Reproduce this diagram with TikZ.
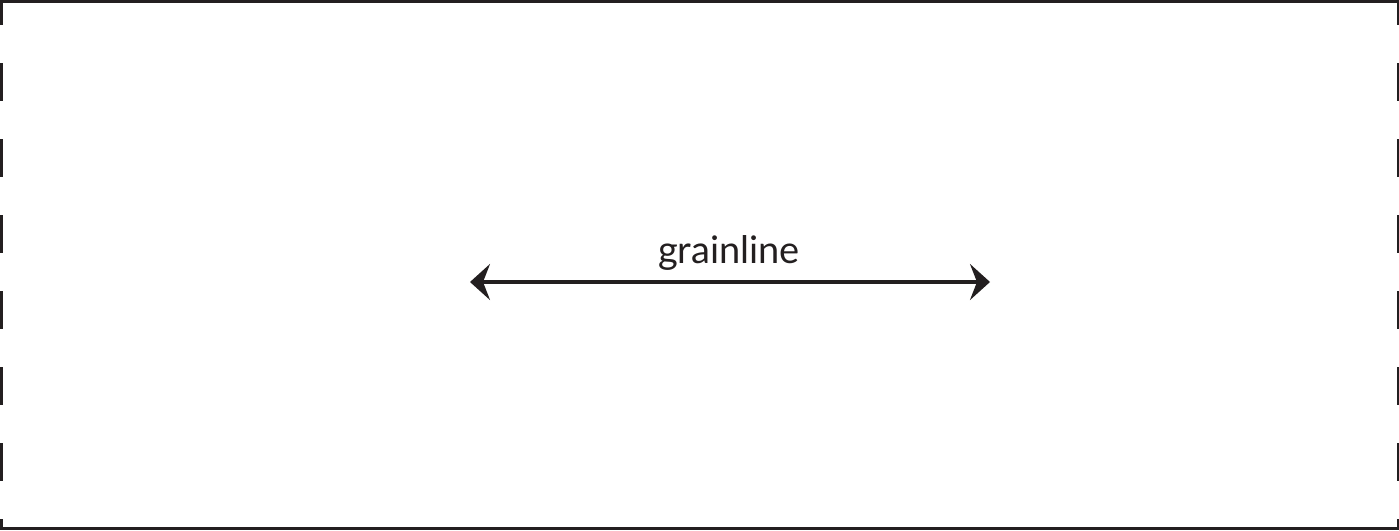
\documentclass[tikz,border=0pt]{standalone}
\usepackage{fontspec}
\setmainfont{Lato}
\usetikzlibrary{arrows.meta}
\definecolor{ink}{HTML}{231F20}
\begin{document}
\begin{tikzpicture}[x=1pt,y=-1pt,
  edge/.style={draw=ink,line width=2.6pt},
  dashedge/.style={draw=ink,line width=2.6pt,dash pattern=on 38pt off 38pt,dash phase=13pt},
  grain/.style={draw=ink,line width=3.5pt,{Stealth[length=20pt,width=36pt,inset=7pt]}-{Stealth[length=20pt,width=36pt,inset=7pt]}},
  lbl/.style={text=ink,font=\fontsize{38}{42}\selectfont,inner sep=0pt,anchor=base}]
\useasboundingbox (0,0) rectangle (1399,530);
\coordinate (tl) at (0,1.2);
\coordinate (tr) at (1399,1.2);
\coordinate (bl) at (0,528.7);
\coordinate (br) at (1399,528.7);
\coordinate (lt) at (1.2,0);
\coordinate (lb) at (1.2,530);
\coordinate (rt) at (1397.8,0);
\coordinate (rb) at (1397.8,530);
\draw[edge] (tl) -- (tr);
\draw[edge] (bl) -- (br);
\draw[dashedge] (lt) -- (lb);
\draw[dashedge] (rt) -- (rb);
\coordinate (a) at (470,282);
\coordinate (b) at (990,282);
\draw[grain] (a) -- (b);
\node[lbl] (t) at (729,263) {grainline};
\end{tikzpicture}
\end{document}
